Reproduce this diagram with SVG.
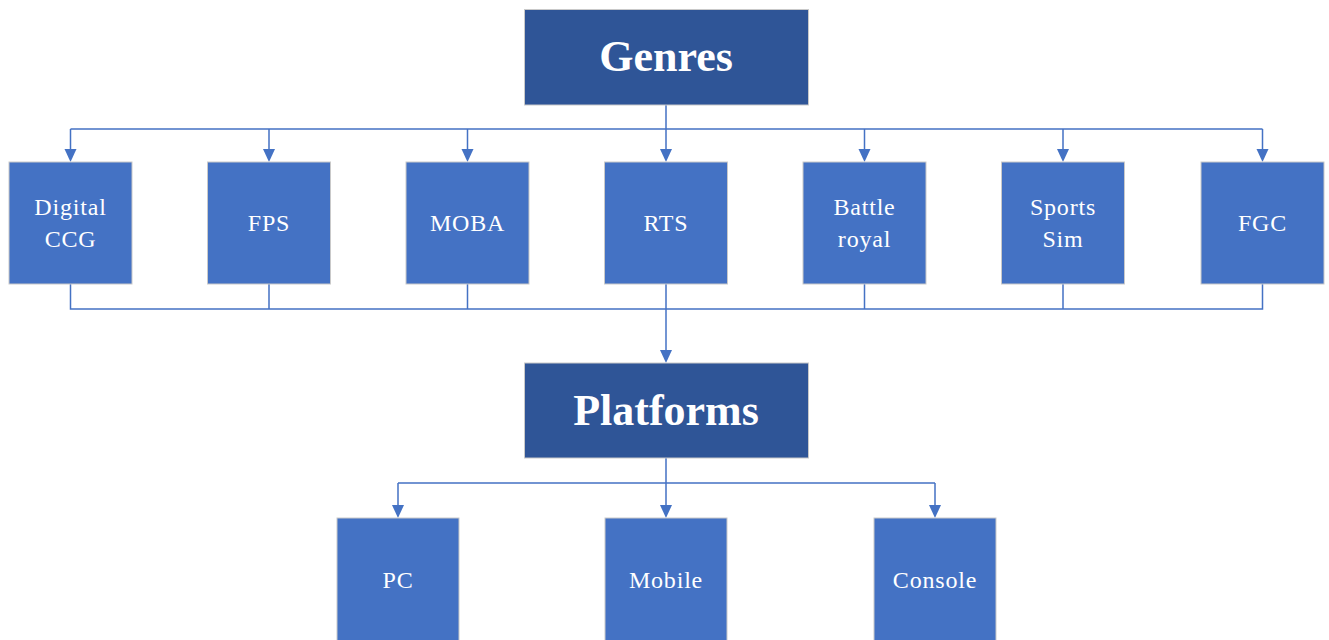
<svg xmlns="http://www.w3.org/2000/svg" width="1329" height="640" viewBox="0 0 1329 640">
  <style>
    .head { fill: #2F5597; stroke: #c9c9c9; stroke-width: 1; }
    .item { fill: #4472C4; stroke: #c9c9c9; stroke-width: 1; }
    .htxt { font-family: "Liberation Serif", "Times New Roman", serif; font-weight: bold; font-size: 44px; fill: #ffffff; text-anchor: middle; }
    .itxt { font-family: "Liberation Serif", "Times New Roman", serif; font-size: 24px; letter-spacing: 0.8px; fill: #ffffff; text-anchor: middle; }
    .link { fill: none; stroke: #4472C4; stroke-width: 1.5; }
    .head-arrow { fill: #4472C4; }
  </style>
  <rect width="1329" height="640" fill="#ffffff"/>

  <g id="connectors">
    <!-- Genres to each genre -->
    <path class="link" d="M666,105 V129 M70.5,129 H1262.5"/>
    <path class="link" d="M70.5,129 V150 M269,129 V150 M467.5,129 V150 M666,129 V150 M864.5,129 V150 M1063,129 V150 M1262.5,129 V150"/>
    <!-- genres joined to Platforms -->
    <path class="link" d="M70.5,284 V309 H1262.5 V284 M269,284 V309 M467.5,284 V309 M666,284 V309 M864.5,284 V309 M1063,284 V309"/>
    <path class="link" d="M666,309 V351"/>
    <!-- Platforms to each platform -->
    <path class="link" d="M666,458 V483 M398,483 H935"/>
    <path class="link" d="M398,483 V506 M666,483 V506 M935,483 V506"/>
    <!-- arrowheads -->
    <g class="head-arrow">
      <path d="M64.5,149 H76.5 L70.5,162 Z"/>
      <path d="M263,149 H275 L269,162 Z"/>
      <path d="M461.5,149 H473.5 L467.5,162 Z"/>
      <path d="M660,149 H672 L666,162 Z"/>
      <path d="M858.5,149 H870.5 L864.5,162 Z"/>
      <path d="M1057,149 H1069 L1063,162 Z"/>
      <path d="M1256.5,149 H1268.5 L1262.5,162 Z"/>
      <path d="M660,350 H672 L666,363 Z"/>
      <path d="M392,505 H404 L398,518 Z"/>
      <path d="M660,505 H672 L666,518 Z"/>
      <path d="M929,505 H941 L935,518 Z"/>
    </g>
  </g>

  <g id="genres">
    <rect class="head" x="524.5" y="9.5" width="284" height="95.5"/>
    <text class="htxt" x="666" y="71">Genres</text>
  </g>

  <g id="digital-ccg">
    <rect class="item" x="9" y="162" width="123" height="122"/>
    <text class="itxt" x="70.5" y="215">Digital</text>
    <text class="itxt" x="70.5" y="247">CCG</text>
  </g>
  <g id="fps">
    <rect class="item" x="207.5" y="162" width="123" height="122"/>
    <text class="itxt" x="269" y="231">FPS</text>
  </g>
  <g id="moba">
    <rect class="item" x="406" y="162" width="123" height="122"/>
    <text class="itxt" x="467.5" y="231">MOBA</text>
  </g>
  <g id="rts">
    <rect class="item" x="604.5" y="162" width="123" height="122"/>
    <text class="itxt" x="666" y="231">RTS</text>
  </g>
  <g id="battle-royal">
    <rect class="item" x="803" y="162" width="123" height="122"/>
    <text class="itxt" x="864.5" y="215">Battle</text>
    <text class="itxt" x="864.5" y="247">royal</text>
  </g>
  <g id="sports-sim">
    <rect class="item" x="1001.5" y="162" width="123" height="122"/>
    <text class="itxt" x="1063" y="215">Sports</text>
    <text class="itxt" x="1063" y="247">Sim</text>
  </g>
  <g id="fgc">
    <rect class="item" x="1201" y="162" width="123" height="122"/>
    <text class="itxt" x="1262.5" y="231">FGC</text>
  </g>

  <g id="platforms">
    <rect class="head" x="524.5" y="363" width="284" height="95"/>
    <text class="htxt" x="666" y="425">Platforms</text>
  </g>

  <g id="pc">
    <rect class="item" x="337" y="518" width="122" height="130"/>
    <text class="itxt" x="398" y="588">PC</text>
  </g>
  <g id="mobile">
    <rect class="item" x="605" y="518" width="122" height="130"/>
    <text class="itxt" x="666" y="588">Mobile</text>
  </g>
  <g id="console">
    <rect class="item" x="874" y="518" width="122" height="130"/>
    <text class="itxt" x="935" y="588">Console</text>
  </g>
</svg>
